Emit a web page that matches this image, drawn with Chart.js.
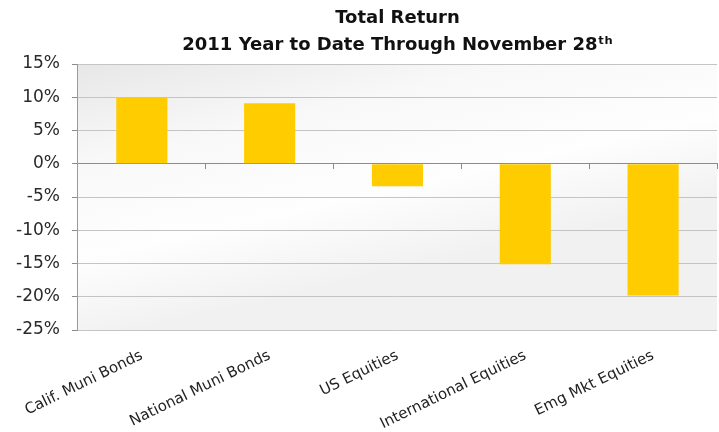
<!DOCTYPE html>
<html>
<head>
<meta charset="utf-8">
<script src="https://cdn.jsdelivr.net/npm/chart.js@4/dist/chart.umd.min.js"></script>
<style>
  html, body { margin:0; padding:0; background:#fff; }
  #wrap { width:719px; height:432px; }
</style>
</head>
<body>
<div id="wrap"><canvas id="c"></canvas></div>
<script>
// data
const categories = ['Calif. Muni Bonds', 'National Muni Bonds', 'US Equities', 'International Equities', 'Emg Mkt Equities'];
const totalReturn = [10.0, 9.1, -3.4, -15.1, -19.8];
const yTicks = [-25, -20, -15, -10, -5, 0, 5, 10, 15];
const titleLines = ['Total Return', '2011 Year to Date Through November 28\u1d57\u02b0'];

const FONT = '"DejaVu Sans", sans-serif';

// soft gray sheen behind the plot
const plotBg = {
  id: 'plotBg',
  beforeDraw(chart){
    const {ctx, chartArea:a} = chart;
    const g = ctx.createLinearGradient(a.left, a.top, a.left + 60, a.bottom);
    g.addColorStop(0, '#e7e7e7');
    g.addColorStop(0.35, '#f8f8f8');
    g.addColorStop(0.7, '#fefefe');
    g.addColorStop(1, '#f1f1f1');
    ctx.save();
    ctx.fillStyle = g;
    ctx.fillRect(a.left, a.top, a.right - a.left, a.bottom - a.top);
    ctx.restore();
  }
};

new Chart(document.getElementById('c'), {
  type: 'bar',
  data: {
    labels: categories,
    datasets: [{
      label: 'Total Return',
      data: totalReturn,
      backgroundColor: '#ffcc00',
      borderWidth: 0,
      barPercentage: 0.4,
      categoryPercentage: 1,
      xAxisID: 'x'
    }]
  },
  options: {
    responsive: true,
    maintainAspectRatio: false,
    animation: false,
    layout: { padding: { top: 5, right: 2, left: 4, bottom: 0 } },
    plugins: {
      legend: { display: false },
      tooltip: { enabled: false },
      title: {
        display: true,
        fullSize: false,
        text: titleLines,
        color: '#111',
        font: { family: FONT, size: 18, weight: 'bold', lineHeight: 1.5 },
        padding: { top: 0, bottom: 5 }
      }
    },
    scales: {
      x: {
        position: 'bottom',
        grid: { display: false },
        border: { display: false },
        ticks: {
          color: '#222',
          font: { family: FONT, size: 15, lineHeight: 1 },
          minRotation: 26, maxRotation: 26,
          padding: 10
        },
        afterFit(scale){ scale.height = 102; } // labels spill down like in the original
      },
      x0: {
        type: 'category',
        labels: categories,
        position: { y: 0 },
        offset: true,
        grid: { drawOnChartArea: false, drawTicks: true, tickLength: 5, color: '#8c8c8c' },
        border: { display: true, color: '#8c8c8c', width: 1 },
        ticks: { display: false }
      },
      y: {
        min: -25, max: 15,
        afterBuildTicks(scale){ scale.ticks = yTicks.map(v => ({ value: v })); },
        grid: { color: '#c4c4c4', drawTicks: true, tickLength: 6, tickColor: '#8c8c8c' },
        border: { color: '#9a9a9a' },
        ticks: {
          color: '#2a2a2a',
          font: { family: FONT, size: 17 },
          padding: 12,
          callback: v => v + '%'
        }
      }
    }
  },
  plugins: [plotBg]
});
</script>
</body>
</html>
